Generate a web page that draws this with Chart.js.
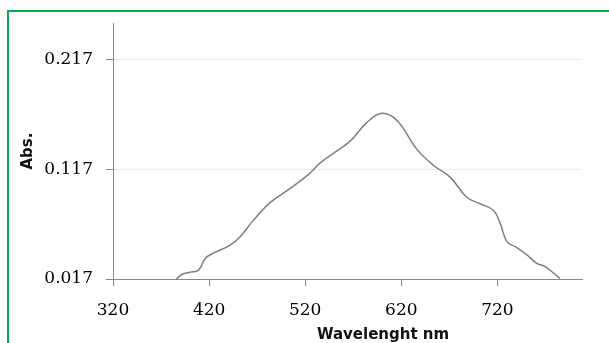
<!DOCTYPE html>
<html>
<head>
<meta charset="utf-8">
<script src="https://cdn.jsdelivr.net/npm/chart.js@4/dist/chart.umd.min.js"></script>
<style>
  body { margin: 0; background: #fff; }
  #frame {
    position: absolute; left: 7px; top: 10px; right: 0; bottom: 0;
    border-left: 2px solid #00b050; border-top: 2px solid #00b050;
  }
  #myChart { position: absolute; left: 0; top: 0; }
</style>
</head>
<body>
<div id="frame"></div>
<canvas id="myChart" width="609" height="343"></canvas>
<script>
// spectrum
var wavelengths = [386, 392, 400, 409, 416, 425, 442, 452, 466, 484, 501, 522, 536, 553, 567,
  584, 600, 616, 636, 654, 671, 688, 702, 716, 723, 730, 739, 751, 761, 770, 785];
var absorbance = [0.017, 0.0213, 0.0232, 0.0251, 0.0357, 0.0408, 0.0478, 0.0553, 0.0704, 0.087, 0.0975,
  0.1111, 0.123, 0.1337, 0.1428, 0.1594, 0.1679, 0.1609, 0.1353, 0.1202, 0.1096, 0.0915, 0.0855,
  0.0794, 0.0674, 0.0508, 0.0462, 0.0387, 0.0312, 0.0281, 0.0176];
var xTicks = [320, 420, 520, 620, 720];
var yTicks = [0.017, 0.117, 0.217];

var points = wavelengths.map(function (w, i) { return { x: w, y: absorbance[i] }; });

// x title sits right of the plot centre in the original, so draw it by hand
const xTitlePlugin = {
  id: "xTitle",
  afterDraw(chart) {
    const ctx = chart.ctx;
    ctx.save();
    ctx.font = "bold 15px 'DejaVu Sans'";
    ctx.fillStyle = "#111";
    ctx.textAlign = "center";
    ctx.textBaseline = "middle";
    ctx.fillText("Wavelenght nm", 383, 335);
    ctx.restore();
  },
};

const ctx = document.getElementById("myChart").getContext("2d");
new Chart(ctx, {
  type: "line",
  data: {
    datasets: [
      {
        data: points,
        borderColor: "#7f7f7f",
        borderWidth: 1.5,
        pointRadius: 0,
        tension: 0.4,
        fill: false,
      },
    ],
  },
  options: {
    responsive: false,
    animation: false,
    layout: { padding: { left: 0, top: 22, right: 27, bottom: 0 } },
    plugins: { legend: { display: false }, tooltip: { enabled: false } },
    scales: {
      x: {
        type: "linear",
        min: 320,
        max: 808,
        afterBuildTicks: (scale) => { scale.ticks = xTicks.map((v) => ({ value: v })); },
        afterFit: (scale) => { scale.height = 64; },
        grid: { drawOnChartArea: false, drawTicks: true, tickLength: 7, tickColor: "#888" },
        border: { color: "#888", width: 1 },
        ticks: {
          color: "#000",
          font: { family: "DejaVu Serif", size: 17 },
          padding: 14,
          maxRotation: 0,
          autoSkip: false,
        },
      },
      y: {
        min: 0.017,
        max: 0.25,
        afterBuildTicks: (scale) => { scale.ticks = yTicks.map((v) => ({ value: v })); },
        afterFit: (scale) => { scale.width = 113; },
        grid: { color: "#ececec", drawTicks: true, tickLength: 7, tickColor: "#888" },
        border: { color: "#888", width: 1 },
        ticks: {
          color: "#000",
          font: { family: "DejaVu Serif", size: 17 },
          padding: 13,
          callback: (v) => v.toFixed(3),
        },
        title: {
          display: true,
          text: "Abs.",
          color: "#111",
          font: { family: "DejaVu Sans", size: 15, weight: "bold" },
          padding: { top: 19, bottom: 0 },
        },
      },
    },
  },
  plugins: [xTitlePlugin],
});
</script>
</body>
</html>
